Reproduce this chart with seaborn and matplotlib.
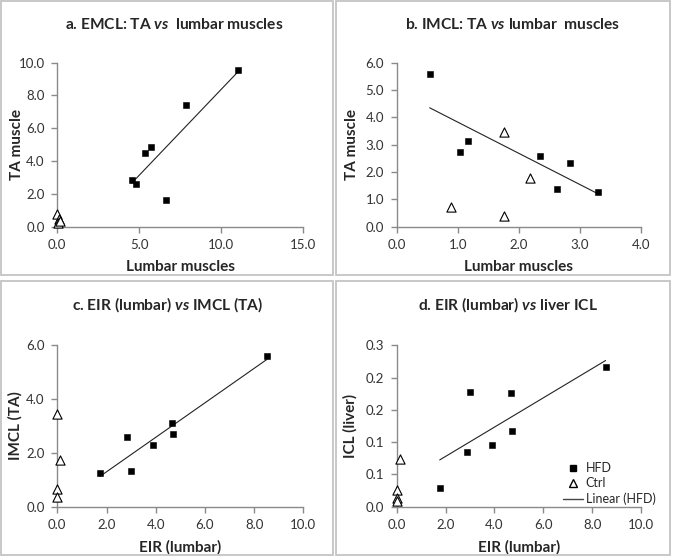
import numpy as np
import matplotlib
matplotlib.use('Agg')
import matplotlib.pyplot as plt
import seaborn as sns
from matplotlib.lines import Line2D
from matplotlib.patches import Rectangle
from matplotlib.ticker import FormatStrFormatter

# a. EMCL: TA vs lumbar
a_hfd_x = [4.53, 4.78, 5.35, 5.69, 6.63, 7.83, 11.0]
a_hfd_y = [2.85, 2.58, 4.49, 4.86, 1.61, 7.40, 9.53]
a_ctrl_x = [0.0, 0.1, 0.05, 0.15]
a_ctrl_y = [0.75, 0.5, 0.2, 0.35]

# b. IMCL: TA vs lumbar
b_hfd_x = [0.54, 1.03, 1.16, 2.35, 2.62, 2.84, 3.29]
b_hfd_y = [5.57, 2.72, 3.13, 2.60, 1.37, 2.32, 1.27]
b_ctrl_x = [0.89, 1.76, 1.76, 2.19]
b_ctrl_y = [0.71, 3.46, 0.39, 1.77]

# c. EIR (lumbar) vs IMCL (TA)
c_hfd_x = [1.73, 2.85, 3.01, 3.89, 4.66, 4.70, 8.52]
c_hfd_y = [1.24, 2.59, 1.34, 2.31, 3.12, 2.70, 5.62]
c_ctrl_x = [0.0, 0.1, 0.0, 0.0]
c_ctrl_y = [3.46, 1.74, 0.66, 0.35]

# d. EIR (lumbar) vs liver ICL
d_hfd_x = [1.76, 2.88, 3.00, 3.90, 4.69, 4.72, 8.55]
d_hfd_y = [0.034, 0.102, 0.214, 0.114, 0.212, 0.141, 0.259]
d_ctrl_x = [0.13, 0.0, 0.0, 0.0]
d_ctrl_y = [0.089, 0.031, 0.017, 0.011]

titles = ["a. EMCL: TA $\\mathit{vs}$  lumbar muscles",
          "b. IMCL: TA $\\mathit{vs}$ lumbar  muscles",
          "c. EIR (lumbar) $\\mathit{vs}$ IMCL (TA)",
          "d. EIR (lumbar) $\\mathit{vs}$ liver ICL"]
xlabels = ["Lumbar muscles", "Lumbar muscles", "EIR (lumbar)", "EIR (lumbar)"]
ylabels = ["TA muscle", "TA muscle", "IMCL (TA)", "ICL (liver)"]
xticks = [np.arange(0, 15.1, 5), np.arange(0, 4.1, 1), np.arange(0, 10.1, 2), np.arange(0, 10.1, 2)]
yticks = [np.arange(0, 10.1, 2), np.arange(0, 6.1, 1), np.arange(0, 6.1, 2), np.arange(0, 0.31, 0.06)]

sns.set_style("white")
plt.rcParams['font.family'] = ['Lato', 'DejaVu Sans']
plt.rcParams['mathtext.fontset'] = 'custom'
plt.rcParams['mathtext.rm'] = 'Lato:bold'
plt.rcParams['mathtext.it'] = 'Lato:italic:bold'

W, H = 675, 560
fig = plt.figure(figsize=(6.75, 5.6), dpi=100)

# axes boxes in pixels: left, top, right, bottom
boxes = [(57.3, 62.7, 303.3, 226.7), (396.7, 62.7, 641, 226.7),
         (57.3, 345.3, 303.3, 506.7), (396.7, 345.3, 641, 506.7)]
frames = [(1, 1, 333, 275), (336, 1, 670, 275), (1, 281, 333, 555), (336, 281, 670, 555)]
# title centre (px), ylabel centre x (px), xlabel centre y (px)
title_pos = [(174, 33), (513, 33), (168, 313), (508, 313)]
ylab_x = [17, 352, 15, 350]
xlab_y = [267, 267, 547, 547]

data = [(a_hfd_x, a_hfd_y, a_ctrl_x, a_ctrl_y), (b_hfd_x, b_hfd_y, b_ctrl_x, b_ctrl_y),
        (c_hfd_x, c_hfd_y, c_ctrl_x, c_ctrl_y), (d_hfd_x, d_hfd_y, d_ctrl_x, d_ctrl_y)]

for i in range(4):
  fl, ft, fr, fb = frames[i]
  fig.add_artist(Rectangle((fl / W, 1 - fb / H), (fr - fl) / W, (fb - ft) / H,
                           transform=fig.transFigure, fill=False, ec='#c4c4c4', lw=1.3))
  l, t, r, b = boxes[i]
  aw, ah = r - l, b - t
  ax = fig.add_axes([l / W, 1 - b / H, aw / W, ah / H])
  hx, hy, cx, cy = data[i]
  sns.regplot(x=hx, y=hy, ax=ax, scatter=False, ci=None, color='#222222', line_kws={'lw': 0.8})
  sns.scatterplot(x=hx, y=hy, ax=ax, marker='s', color='black', edgecolor='black', s=24,
                  linewidth=0.4, clip_on=False, zorder=4)
  sns.scatterplot(x=cx, y=cy, ax=ax, marker='^', color='white', edgecolor='black', s=44,
                  linewidth=0.8, clip_on=False, zorder=4)
  ax.set_xticks(xticks[i])
  ax.set_yticks(yticks[i])
  ax.set_xlim(xticks[i][0], xticks[i][-1])
  ax.set_ylim(yticks[i][0], yticks[i][-1])
  ax.xaxis.set_major_formatter(FormatStrFormatter('%.1f'))
  ax.yaxis.set_major_formatter(FormatStrFormatter('%.1f'))
  sns.despine(ax=ax)
  for s in ['left', 'bottom']:
    ax.spines[s].set_color('#8a8a8a')
    ax.spines[s].set_linewidth(1.0)
  ax.tick_params(direction='out', length=4, width=1.0, color='#8a8a8a', labelsize=9.5,
                 labelcolor='#333333', left=True, bottom=True, pad=5)
  ax.set_xlabel(xlabels[i], fontsize=11, fontweight='bold', va='center')
  ax.set_ylabel(ylabels[i], fontsize=11, fontweight='bold', va='center')
  ax.xaxis.set_label_coords(0.5, -(xlab_y[i] - b) / ah)
  ax.yaxis.set_label_coords(-(l - ylab_x[i]) / aw, 0.5)
  tx, ty = title_pos[i]
  ax.set_title(titles[i], fontsize=11.2, fontweight='bold', x=(tx - l) / aw,
               y=1 + (t - ty) / ah, va='center')

  if i == 3:
    handles = [Line2D([], [], marker='s', ls='none', color='black', markersize=4.5),
               Line2D([], [], marker='^', ls='none', markerfacecolor='white',
                      markeredgecolor='black', markersize=6),
               Line2D([], [], color='#444444', lw=1.0)]
    ax.legend(handles, ['HFD', 'Ctrl', 'Linear (HFD)'], frameon=False, fontsize=9,
              loc='lower right', bbox_to_anchor=(1.08, -0.02), handlelength=1.6,
              handletextpad=0.2, labelspacing=0.25, borderaxespad=0)

fig.savefig('out.png', dpi=100)
